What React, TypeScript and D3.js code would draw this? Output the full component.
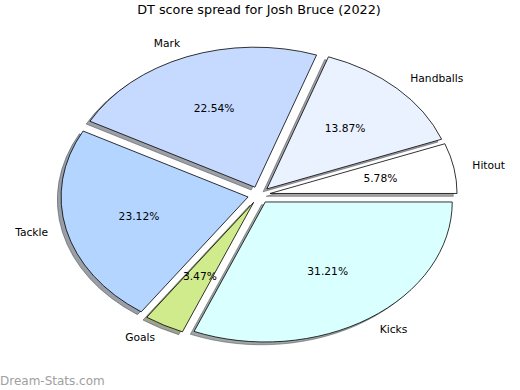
import React from 'react';
import * as d3 from 'd3';

// DT score spread pie (matplotlib style: exploded, shadowed, elliptical)
const categories = ['Hitout', 'Handballs', 'Mark', 'Tackle', 'Goals', 'Kicks'];
const values = [10, 24, 39, 40, 6, 54];
const colors = ['#ffffff', '#eaf1ff', '#c6d9ff', '#b4d5ff', '#d0eb8c', '#d9ffff'];

const width = 520;
const height = 390;
const cx = 259;
const cy = 195;
const sx = 187;
const sy = 140;
const explode = 0.06;
const font = 'DejaVu Sans, sans-serif';

const shade = (c: string) => {
  const rgb = d3.rgb(c);
  return d3.rgb(rgb.r * 0.3, rgb.g * 0.3, rgb.b * 0.3).toString();
};

const App = () => {
  const total = d3.sum(values);
  const pie = d3.pie<number>()
    .sort(null)
    .startAngle(Math.PI / 2)
    .endAngle(Math.PI / 2 - 2 * Math.PI);
  const arcs = pie(values);
  // unit-ish arc, scaled to an ellipse by transform
  const arc = d3.arc<d3.PieArcDatum<number>>().innerRadius(0).outerRadius(100);

  const wedges = arcs.map((a, i) => {
    const m = (a.startAngle + a.endAngle) / 2;
    const dx = Math.sin(m);
    const dy = -Math.cos(m);
    const ox = cx + explode * sx * dx;
    const oy = cy + explode * sy * dy;
    return {
      a, i, dx, dy, ox, oy,
      path: arc(a) as string,
      lx: ox + 1.1 * sx * dx,
      ly: oy + 1.1 * sy * dy,
      px: ox + 0.6 * sx * dx,
      py: oy + 0.6 * sy * dy,
    };
  });

  return (
    <svg width={width} height={height} style={{ position: 'absolute', left: 0, top: 0 }}>
      <rect width={width} height={height} fill="#fff" />
      <text x={259} y={14} textAnchor="middle" fontFamily={font} fontSize={12.8} fill="#000">
        DT score spread for Josh Bruce (2022)
      </text>
      {/* shadows first */}
      {wedges.map(w => (
        <g key={'s' + w.i} transform={`translate(${w.ox - 0.02 * sx},${w.oy + 0.02 * sy}) scale(${sx / 100},${sy / 100})`}>
          <path d={w.path} fill={shade(colors[w.i])} fillOpacity={0.5}
            stroke={shade(colors[w.i])} strokeOpacity={0.5} strokeWidth={1} vectorEffect="non-scaling-stroke" />
        </g>
      ))}
      {wedges.map(w => (
        <g key={'w' + w.i} transform={`translate(${w.ox},${w.oy}) scale(${sx / 100},${sy / 100})`}>
          <path d={w.path} fill={colors[w.i]} stroke="#000" strokeWidth={0.8}
            strokeLinejoin="round" vectorEffect="non-scaling-stroke" />
        </g>
      ))}
      {wedges.map(w => (
        <text key={'l' + w.i} x={w.lx} y={w.ly} textAnchor={w.dx > 0 ? 'start' : 'end'}
          dominantBaseline="central" fontFamily={font} fontSize={10.7} fill="#000">
          {categories[w.i]}
        </text>
      ))}
      {wedges.map(w => (
        <text key={'p' + w.i} x={w.px} y={w.py} textAnchor="middle"
          dominantBaseline="central" fontFamily={font} fontSize={10.7} fill="#000">
          {(values[w.i] / total * 100).toFixed(2) + '%'}
        </text>
      ))}
      <text x={0} y={385} fontFamily={font} fontSize={12} fill="#a0a0a0">Dream-Stats.com</text>
    </svg>
  );
};

export default App;
